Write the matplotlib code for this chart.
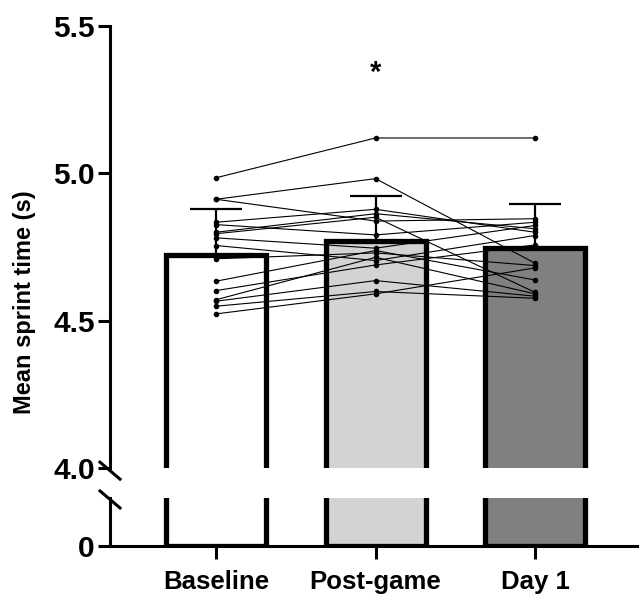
import numpy as np
import matplotlib.pyplot as plt

plt.rcParams['font.family'] = ['Liberation Sans', 'DejaVu Sans']
plt.rcParams['font.weight'] = 'bold'

# data
groups = ['Baseline', 'Post-game', 'Day 1']
bar_means = [4.723, 4.772, 4.745]
bar_sd = [0.157, 0.150, 0.152]
colors = ['white', '#d3d3d3', '#808080']

# individual subjects (baseline, post-game, day 1)
baseline = [4.985, 4.912, 4.912, 4.834, 4.826, 4.800, 4.795, 4.781,
            4.755, 4.710, 4.634, 4.602, 4.571, 4.566, 4.549, 4.523]
postgame = [5.120, 4.982, 4.838, 4.878, 4.791, 4.863, 4.851, 4.746,
            4.704, 4.730, 4.738, 4.689, 4.715, 4.636, 4.599, 4.591]
day1 = [5.120, 4.695, 4.846, 4.800, 4.834, 4.812, 4.596, 4.823,
        4.789, 4.687, 4.638, 4.757, 4.591, 4.583, 4.576, 4.679]

W, H = 639, 595
fig = plt.figure(figsize=(W / 100, H / 100), dpi=100)
ax_top = fig.add_axes([110 / W, 127 / H, 529 / W, 442 / H])
ax_bot = fig.add_axes([110 / W, 49 / H, 529 / W, 48 / H])

x = np.arange(len(groups))
for ax in (ax_top, ax_bot):
    ax.bar(x, bar_means, width=0.627, color=colors, edgecolor='black',
           linewidth=3.8, zorder=2)
    ax.set_xlim(-0.665, 2.652)
    for s in ['top', 'right']:
        ax.spines[s].set_visible(False)
    ax.spines['left'].set_linewidth(2.2)
    ax.spines['bottom'].set_linewidth(2.2)
    ax.tick_params(width=2.2, length=9, labelsize=21.5, pad=2)

# upper error bars only
ax_top.errorbar(x, bar_means, yerr=[np.zeros(3), bar_sd], fmt='none',
                ecolor='black', elinewidth=1.6, capsize=18.5, capthick=1.6,
                zorder=1)

# subject lines
for b, p, d in zip(baseline, postgame, day1):
    ax_top.plot(x, [b, p, d], color='black', lw=0.8, marker='o',
                markersize=3, zorder=3)

ax_top.text(1, 5.34, '*', ha='center', va='center', fontsize=21,
            fontweight='bold')

ax_top.set_ylim(4.0, 5.5)
ax_top.set_yticks([4.0, 4.5, 5.0, 5.5])
ax_top.set_yticklabels(['4.0', '4.5', '5.0', '5.5'])
ax_top.spines['bottom'].set_visible(False)
ax_top.set_xticks([])

ax_bot.set_ylim(0, 1)
ax_bot.set_yticks([0])
ax_bot.set_yticklabels(['0'])
ax_bot.set_xticks(x)
ax_bot.set_xticklabels(groups)
ax_bot.tick_params(axis='x', labelsize=18.5, pad=8)

# break marks on the y axis
dx, dy = 10 / 529, 8.5 / 442
ax_top.plot([-dx, dx], [dy - 0.006, -dy - 0.006], transform=ax_top.transAxes,
            color='black', lw=2.2, clip_on=False)
dy2 = 8.5 / 48
ax_bot.plot([-dx, dx], [1 + dy2 - 0.03, 1 - dy2 - 0.03],
            transform=ax_bot.transAxes, color='black', lw=2.2, clip_on=False)

fig.text(25 / W, 1 - 302 / H, 'Mean sprint time (s)', rotation=90,
         ha='center', va='center', fontsize=17, fontweight='bold')

fig.savefig('out.png', dpi=100)
